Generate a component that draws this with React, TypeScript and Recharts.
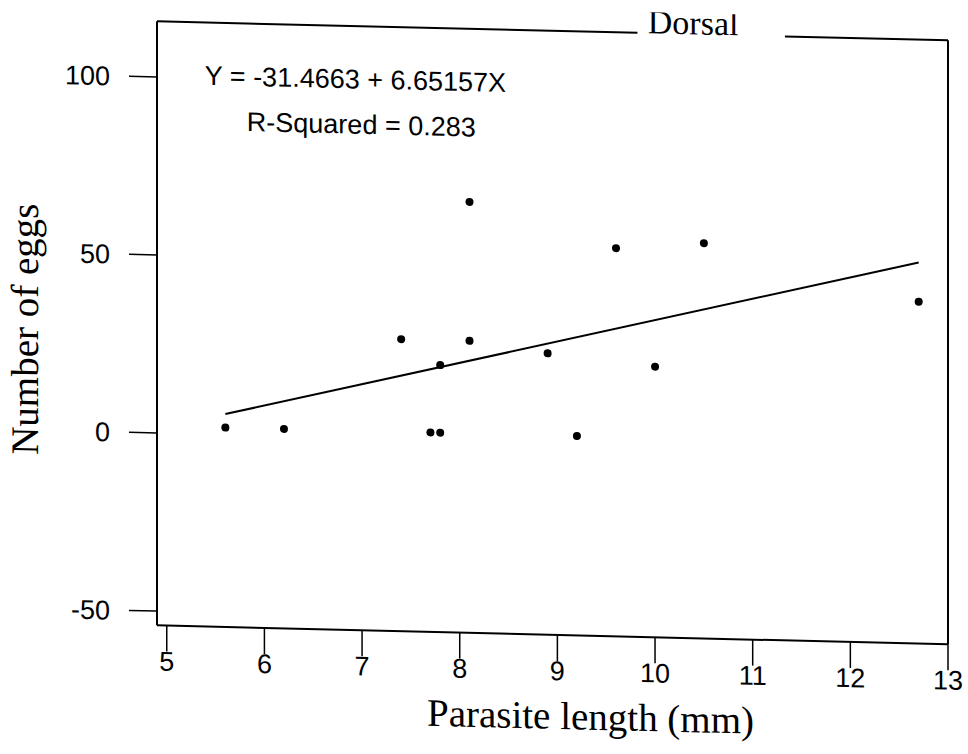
import React from "react";
import {
  ScatterChart,
  Scatter,
  XAxis,
  YAxis,
  ReferenceLine,
  ReferenceDot,
} from "recharts";

// parasite length (mm) and number of eggs
const lengths = [5.6, 6.2, 7.4, 8.1, 8.1, 7.8, 8.9, 7.7, 7.8, 9.2, 9.6, 10.5, 10.0, 12.7];
const eggs = [2, 2, 28, 67, 28, 21, 25, 2, 2, 2, 55, 57, 22, 42];

const xTicks = [5, 6, 7, 8, 9, 10, 11, 12, 13];
const yTicks = [-50, 0, 50, 100];

const INTERCEPT = -31.4663;
const SLOPE = 6.65157;
const equationText = "Y = -31.4663 + 6.65157X";
const rSquaredText = "R-Squared = 0.283";
const title = "Dorsal";
const xLabel = "Parasite length (mm)";
const yLabel = "Number of eggs";

const X_MIN = 4.9;
const X_MAX = 13.0;
const Y_MIN = -54;
const Y_MAX = 115.6;

const points = lengths.map((x, i) => ({ x, y: eggs[i] }));
const fitFrom = Math.min(...lengths);
const fitTo = Math.max(...lengths);

const sans = "'Liberation Sans', Arial, sans-serif";
const serif = "'Liberation Serif', 'Times New Roman', serif";

// rotated y-axis title, placed from the axis viewBox
const YTitle = (props: any) => {
  const vb = props.viewBox || { x: 0, y: 0, width: 0, height: 0 };
  const cx = vb.x + 25;
  const cy = vb.y + vb.height / 2 + 9;
  return (
    <text
      x={cx}
      y={cy}
      transform={`rotate(-90, ${cx}, ${cy})`}
      textAnchor="middle"
      dominantBaseline="central"
      fill="#000"
      fontSize={39}
      fontFamily={serif}
    >
      {yLabel}
    </text>
  );
};

const App: React.FC = () => {
  return (
    <div
      style={{
        position: "absolute",
        left: 0,
        top: 0,
        width: 968,
        height: 754,
        background: "#fff",
        transform: "skewY(1.375deg)",
        transformOrigin: "143px 0",
      }}
    >
      <ScatterChart
        width={968}
        height={754}
        margin={{ top: 21, right: 20, left: 0, bottom: 0 }}
      >
        <XAxis
          type="number"
          dataKey="x"
          domain={[X_MIN, X_MAX]}
          ticks={xTicks}
          allowDataOverflow
          height={129}
          tickSize={26}
          tickMargin={0}
          axisLine={{ stroke: "#000", strokeWidth: 2 }}
          tickLine={{ stroke: "#000", strokeWidth: 1.5 }}
          tick={{ fill: "#000", fontSize: 27, fontFamily: sans }}
          label={{
            value: xLabel,
            position: "insideBottom",
            offset: 35,
            dx: 38,
            fill: "#000",
            fontSize: 39,
            fontFamily: serif,
          }}
        />
        <YAxis
          type="number"
          dataKey="y"
          domain={[Y_MIN, Y_MAX]}
          ticks={yTicks}
          allowDataOverflow
          width={157}
          tickSize={28}
          tickMargin={19}
          axisLine={{ stroke: "#000", strokeWidth: 2 }}
          tickLine={{ stroke: "#000", strokeWidth: 1.5 }}
          tick={{ fill: "#000", fontSize: 27, fontFamily: sans }}
          label={<YTitle />}
        />
        {/* frame: right side and the broken top edge around the title */}
        <ReferenceLine x={X_MAX} stroke="#000" strokeWidth={2} ifOverflow="visible" />
        <ReferenceLine
          segment={[
            { x: X_MIN, y: Y_MAX },
            { x: 9.82, y: Y_MAX },
          ]}
          stroke="#000"
          strokeWidth={2}
          ifOverflow="visible"
        />
        <ReferenceLine
          segment={[
            { x: 11.33, y: Y_MAX },
            { x: X_MAX, y: Y_MAX },
          ]}
          stroke="#000"
          strokeWidth={2}
          ifOverflow="visible"
        />
        <ReferenceDot
          x={10.39}
          y={Y_MAX}
          r={0}
          ifOverflow="visible"
          label={{
            value: title,
            position: "top",
            offset: 0,
            fill: "#000",
            fontSize: 34,
            fontFamily: serif,
          }}
        />
        <ReferenceDot
          x={5.39}
          y={100.8}
          r={0}
          label={{
            value: equationText,
            position: "right",
            offset: 0,
            fill: "#000",
            fontSize: 27,
            fontFamily: sans,
          }}
        />
        <ReferenceDot
          x={5.82}
          y={88.1}
          r={0}
          label={{
            value: rSquaredText,
            position: "right",
            offset: 0,
            fill: "#000",
            fontSize: 27,
            fontFamily: sans,
          }}
        />
        {/* fitted line */}
        <ReferenceLine
          segment={[
            { x: fitFrom, y: INTERCEPT + SLOPE * fitFrom },
            { x: fitTo, y: INTERCEPT + SLOPE * fitTo },
          ]}
          stroke="#000"
          strokeWidth={2}
        />
        <Scatter
          data={points}
          fill="#000"
          isAnimationActive={false}
          shape={(p: any) => <circle cx={p.cx} cy={p.cy} r={4} fill="#000" />}
        />
      </ScatterChart>
    </div>
  );
};

export default App;
